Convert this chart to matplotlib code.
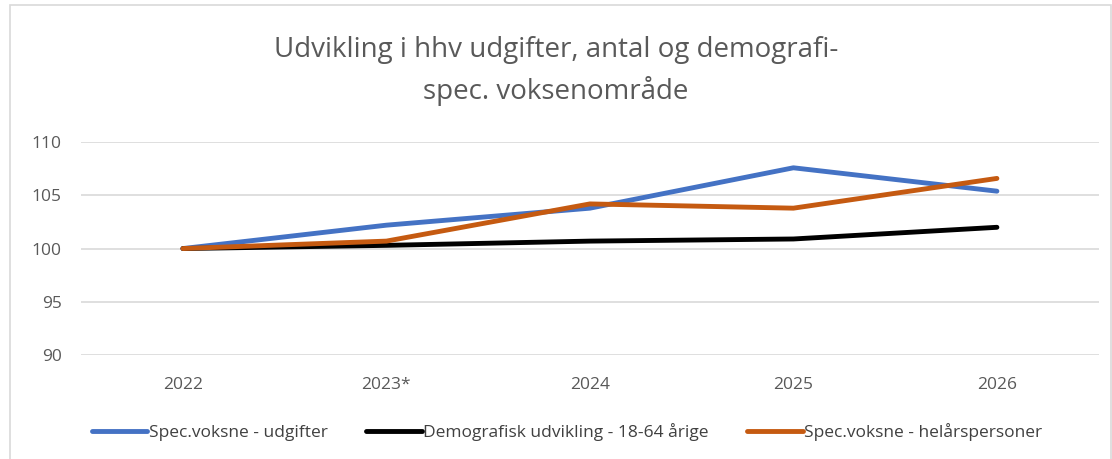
import numpy as np
import matplotlib.pyplot as plt
from matplotlib.patches import Rectangle

years = ["2022", "2023*", "2024", "2025", "2026"]
udgifter = [100, 102.2, 103.8, 107.6, 105.4]
demografi = [100, 100.3, 100.7, 100.9, 102.0]
helaar = [100, 100.7, 104.2, 103.8, 106.6]

plt.rcParams['font.family'] = ['Open Sans', 'DejaVu Sans']

fig = plt.figure(figsize=(11.12, 4.59), dpi=100)
ax = fig.add_axes([0.073, 0.227, 0.915, 0.463])

x = np.arange(len(years))
ax.plot(x, udgifter, color="#4472C4", lw=3.5, solid_capstyle="round", label="Spec.voksne - udgifter")
ax.plot(x, demografi, color="#000000", lw=3.5, solid_capstyle="round", label="Demografisk udvikling - 18-64 årige")
ax.plot(x, helaar, color="#C55A11", lw=3.5, solid_capstyle="round", label="Spec.voksne - helårspersoner")

ax.set_xlim(-0.5, 4.5)
ax.set_ylim(90, 110)
ax.set_yticks([90, 95, 100, 105, 110])
ax.set_xticks(x)
ax.set_xticklabels(years)
ax.grid(axis="y", color="#D9D9D9", lw=1.2)
ax.set_axisbelow(True)
for s in ax.spines.values():
    s.set_visible(False)
ax.tick_params(length=0, labelsize=12.5, labelcolor="#595959")
ax.tick_params(axis="x", pad=16)
ax.tick_params(axis="y", pad=14)

fig.text(0.5, 0.845, "Udvikling i hhv udgifter, antal og demografi-\nspec. voksenområde",
         ha="center", va="center", fontsize=20, color="#595959", linespacing=1.55)

fig.legend(loc="center", bbox_to_anchor=(0.51, 0.058), ncol=3, frameon=False,
           fontsize=12.5, labelcolor="#404040", handlelength=3.2, handletextpad=0.1,
           columnspacing=2.2)

fig.patches.append(Rectangle((0.009, -0.01), 0.99, 1.0, transform=fig.transFigure,
                             fill=False, edgecolor="#D9D9D9", lw=1.2))

fig.savefig("out.png", dpi=100)
